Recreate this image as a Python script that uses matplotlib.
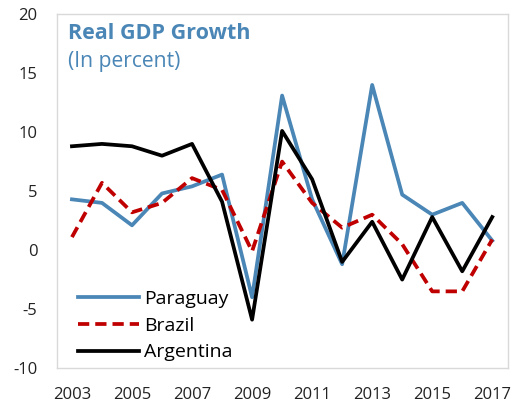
import matplotlib
matplotlib.use("Agg")
import matplotlib.pyplot as plt

years = list(range(2003, 2018))
paraguay = [4.3, 4.0, 2.1, 4.8, 5.4, 6.4, -4.0, 13.1, 4.3, -1.2, 14.0, 4.7, 3.0, 4.0, 0.8]
brazil = [1.1, 5.7, 3.2, 4.0, 6.1, 5.1, -0.1, 7.5, 4.0, 1.9, 3.0, 0.5, -3.5, -3.5, 0.9]
argentina = [8.8, 9.0, 8.8, 8.0, 9.0, 4.1, -5.9, 10.1, 6.0, -1.0, 2.4, -2.5, 2.8, -1.8, 2.8]
xticks = list(range(2003, 2018, 2))
yticks = [-10, -5, 0, 5, 10, 15, 20]

plt.rcParams['font.family'] = ['Open Sans', 'DejaVu Sans']
plt.rcParams['axes.unicode_minus'] = False

fig = plt.figure(figsize=(5.13, 4.04), dpi=100)
ax = fig.add_axes([0.111, 0.089, 0.879, 0.876])

blue = '#4A86B6'
ax.plot(years, paraguay, color=blue, lw=2.7, label='Paraguay')
ax.plot(years, brazil, color='#C00000', lw=2.7, ls=(0, (3, 1.6)), label='Brazil')
ax.plot(years, argentina, color='black', lw=2.7, label='Argentina')

ax.set_xlim(2002.5, 2017.52)
ax.set_ylim(-10, 20)
ax.set_xticks(xticks)
ax.set_yticks(yticks)
ax.tick_params(length=0, labelsize=12, colors='#222222')
ax.tick_params(axis='x', pad=14)
ax.tick_params(axis='y', pad=14)
for s in ax.spines.values():
    s.set_color('#D9D9D9')
    s.set_linewidth(1.0)

ax.text(0.025, 0.975, 'Real GDP Growth', transform=ax.transAxes, color=blue,
        fontsize=15.5, fontweight='bold', va='top')
ax.text(0.025, 0.895, '(In percent)', transform=ax.transAxes, color=blue,
        fontsize=15.2, va='top')

ax.legend(loc='lower left', bbox_to_anchor=(0.03, -0.003), frameon=False, fontsize=14,
          handlelength=3.1, handletextpad=0.3, labelspacing=0.45, borderaxespad=0.0)

fig.savefig('out.png', dpi=100)
